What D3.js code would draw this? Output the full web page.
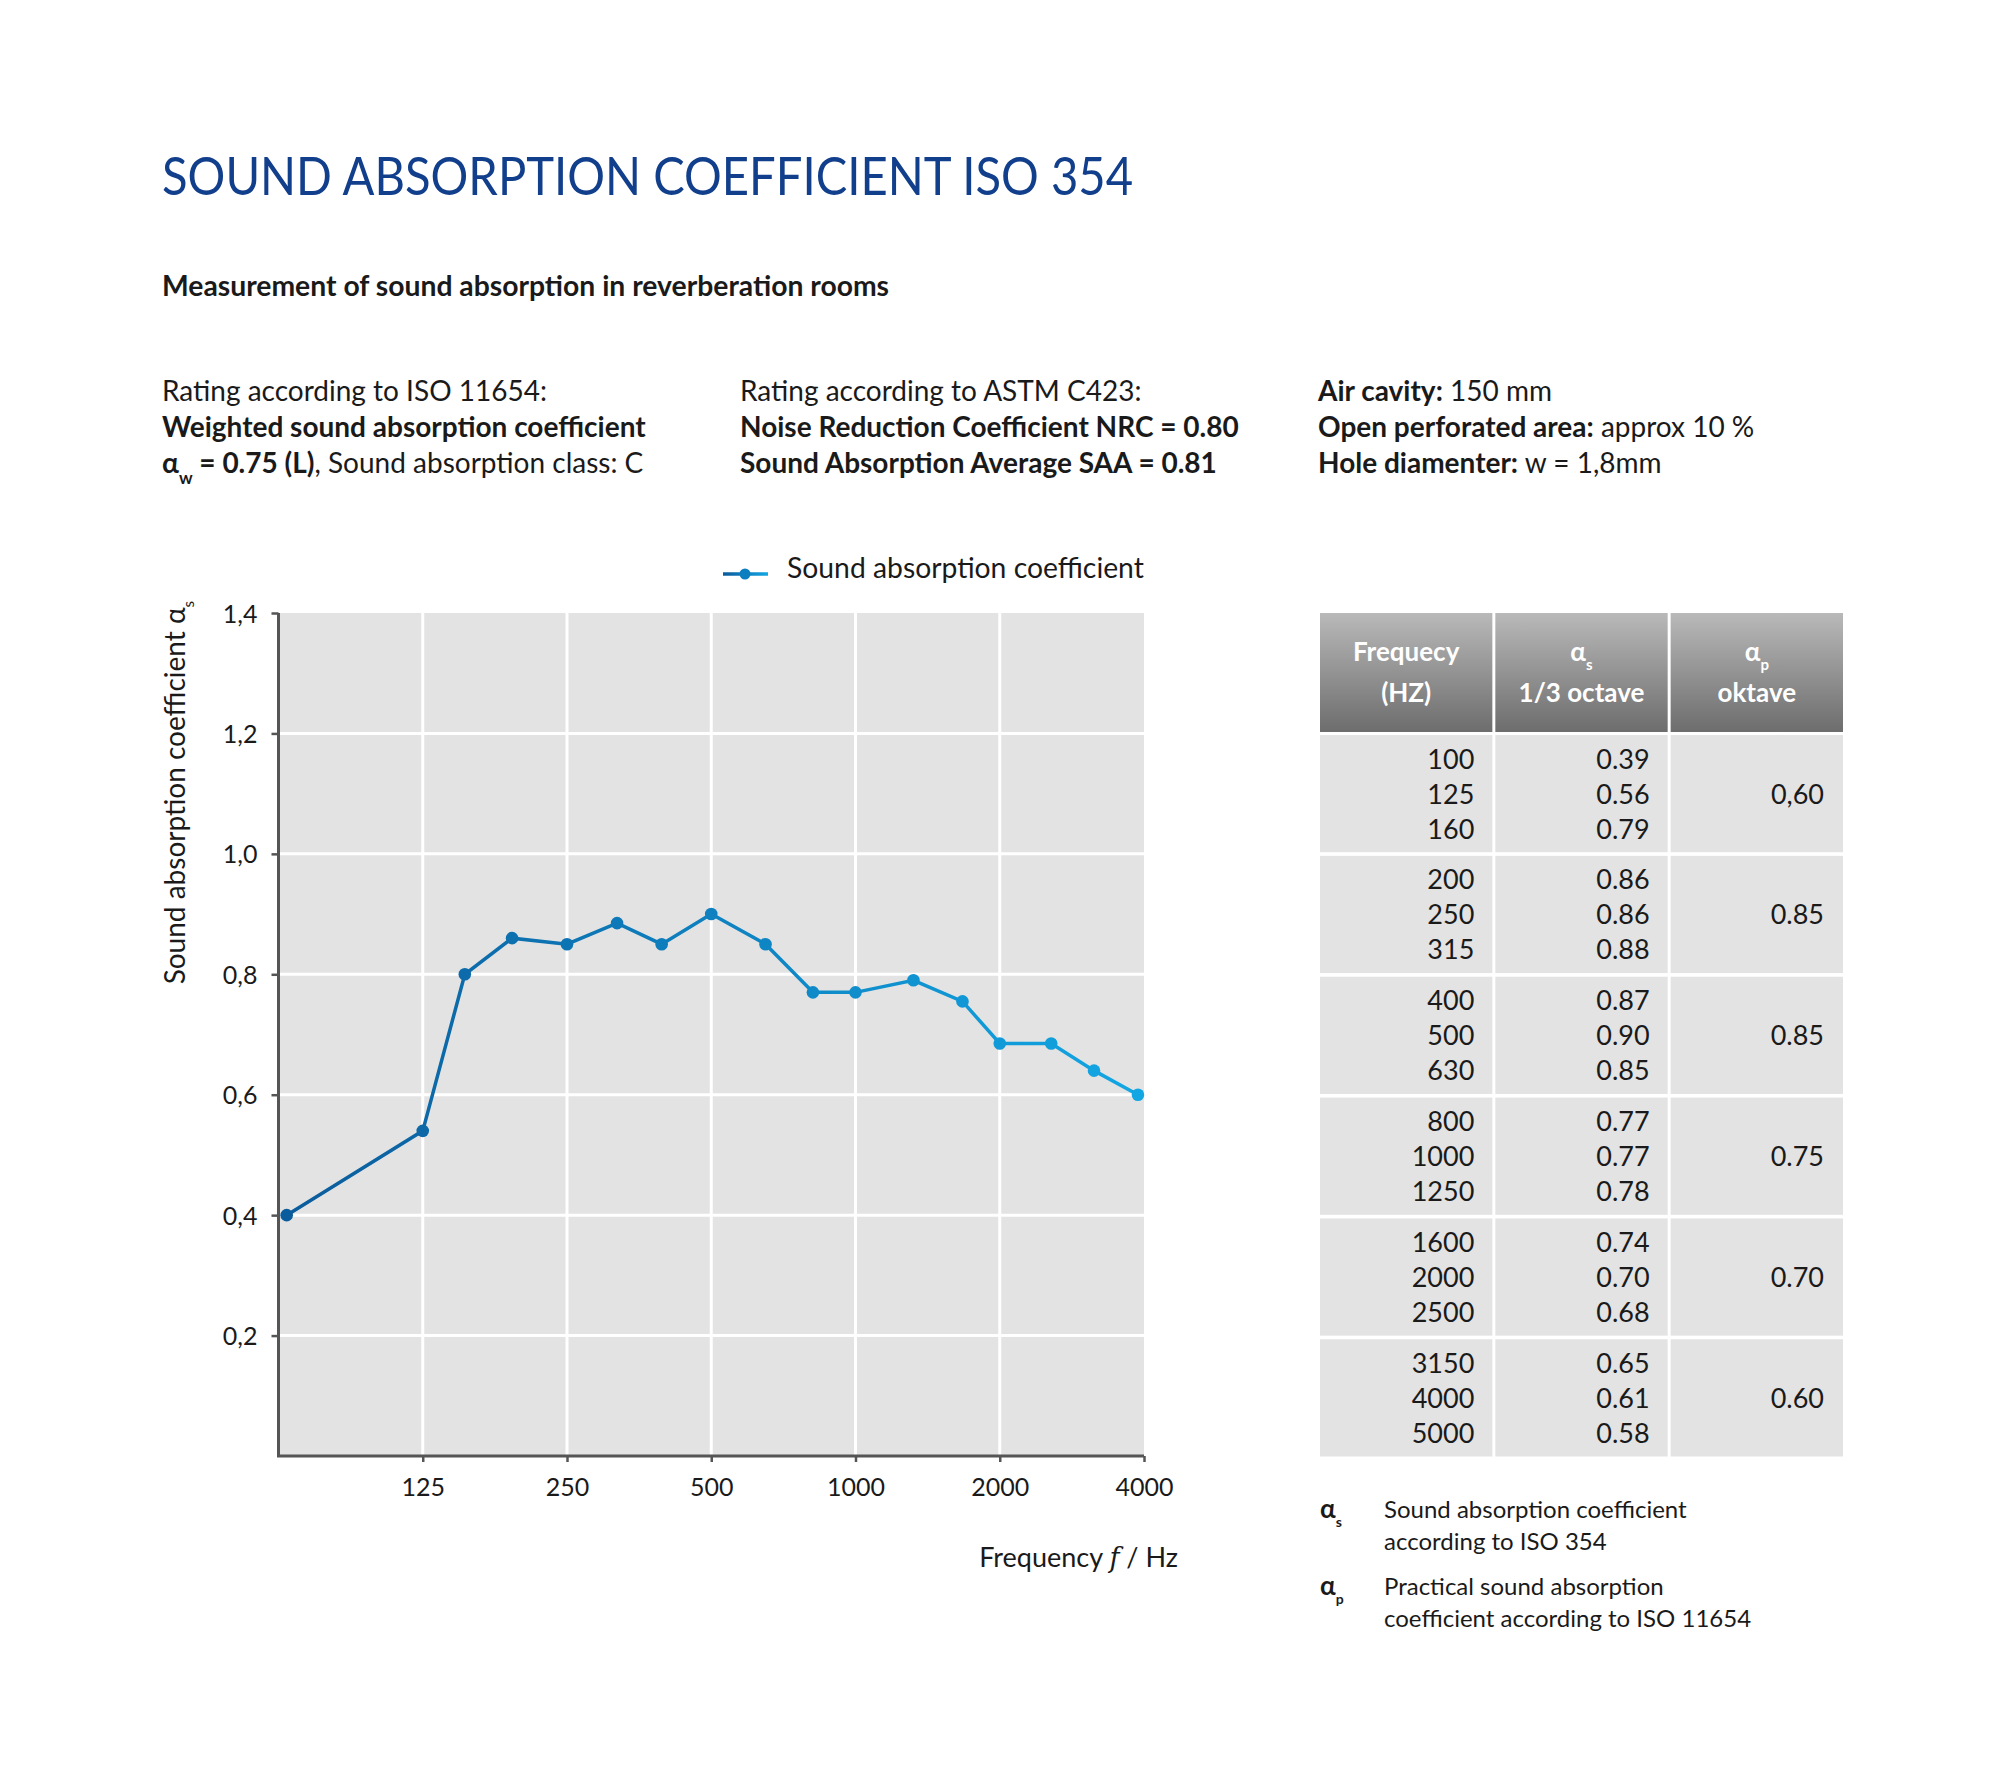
<!DOCTYPE html>
<html>
<head>
<meta charset="utf-8">
<script src="https://cdn.jsdelivr.net/npm/d3@7"></script>
<style>
  body { margin: 0; background: #fff; }
  svg { display: block; font-family: Lato, "Open Sans", sans-serif; }
</style>
</head>
<body>
<svg id="chart" width="2000" height="1786"></svg>
<script>
// === Données ===
const plotFreq  = [65, 125, 153, 192, 250, 318, 394, 500, 649, 815, 1000, 1321, 1672, 2000, 2561, 3146, 3885];
const plotAlpha = [0.40, 0.54, 0.80, 0.86, 0.85, 0.885, 0.85, 0.90, 0.85, 0.77, 0.77, 0.79, 0.755, 0.685, 0.685, 0.64, 0.60];
const xTicks = [125, 250, 500, 1000, 2000, 4000];
const yTicks = [0.2, 0.4, 0.6, 0.8, 1.0, 1.2, 1.4];

const tableFreq   = [100, 125, 160, 200, 250, 315, 400, 500, 630, 800, 1000, 1250, 1600, 2000, 2500, 3150, 4000, 5000];
const tableAlphaS = ["0.39", "0.56", "0.79", "0.86", "0.86", "0.88", "0.87", "0.90", "0.85",
                     "0.77", "0.77", "0.78", "0.74", "0.70", "0.68", "0.65", "0.61", "0.58"];
const tableAlphaP = ["0,60", "0.85", "0.85", "0.75", "0.70", "0.60"];

const svg = d3.select('#chart');
const BLUE = '#123f8c', TXT = '#1a1a1a';
const dark = '#0b5b9b', light = '#12a7e4';

// === Titres ===
svg.append('text').attr('x', 162).attr('y', 195)
  .attr('fill', BLUE).style('font-size', '52px')
  .attr('textLength', 971).attr('lengthAdjust', 'spacingAndGlyphs')
  .text('SOUND ABSORPTION COEFFICIENT ISO 354');

svg.append('text').attr('x', 162).attr('y', 296)
  .attr('fill', TXT).style('font-size', '28.3px').style('font-weight', 700)
  .text('Measurement of sound absorption in reverberation rooms');

// petite aide pour les lignes mixtes gras / normal
function richLine(x, y, parts) {
  const t = svg.append('text').attr('x', x).attr('y', y).attr('fill', TXT).style('font-size', '28px');
  parts.forEach(p => {
    const s = t.append('tspan').text(p.t);
    if (p.b) s.style('font-weight', 700);
    if (p.sub) s.attr('baseline-shift', 'sub').style('font-size', '17px');
  });
  return t;
}

const lineY = [401, 437, 473];
richLine(162, lineY[0], [{ t: 'Rating according to ISO 11654:' }]);
richLine(162, lineY[1], [{ t: 'Weighted sound absorption coefficient', b: true }]);
richLine(162, lineY[2], [{ t: 'α', b: true }, { t: 'w', b: true, sub: true }, { t: ' = 0.75 (L)', b: true }, { t: ', Sound absorption class: C' }]);

richLine(740, lineY[0], [{ t: 'Rating according to ASTM C423:' }]);
richLine(740, lineY[1], [{ t: 'Noise Reduction Coefficient NRC = 0.80', b: true }]);
richLine(740, lineY[2], [{ t: 'Sound Absorption Average SAA = 0.81', b: true }]);

richLine(1318, lineY[0], [{ t: 'Air cavity:', b: true }, { t: ' 150 mm' }]);
richLine(1318, lineY[1], [{ t: 'Open perforated area:', b: true }, { t: ' approx 10 %' }]);
richLine(1318, lineY[2], [{ t: 'Hole diamenter:', b: true }, { t: ' w = 1,8mm' }]);

// === Graphique ===
const x = d3.scaleLog().domain([62.5, 4000]).range([278.5, 1144]);
const y = d3.scaleLinear().domain([0, 1.4]).range([1456, 613]);
const colorAt = d3.scaleLinear().domain(x.range()).range([dark, light]);

svg.append('rect')
  .attr('x', x.range()[0]).attr('y', y(1.4))
  .attr('width', x.range()[1] - x.range()[0]).attr('height', y(0) - y(1.4))
  .attr('fill', '#e3e3e3');

const grid = svg.append('g').attr('stroke', '#fff').attr('stroke-width', 3);
grid.selectAll('line.h').data(yTicks.slice(0, -1)).join('line')
  .attr('class', 'h')
  .attr('x1', x.range()[0]).attr('x2', x.range()[1])
  .attr('y1', d => y(d)).attr('y2', d => y(d));
grid.selectAll('line.v').data(xTicks.slice(0, -1)).join('line')
  .attr('class', 'v')
  .attr('x1', d => x(d)).attr('x2', d => x(d))
  .attr('y1', y(1.4)).attr('y2', y(0));

// axes
const yAxis = d3.axisLeft(y).tickValues(yTicks).tickSize(7).tickPadding(14)
  .tickFormat(d => d3.format('.1f')(d).replace('.', ','));
const gy = svg.append('g').attr('transform', `translate(${x.range()[0]},0)`).call(yAxis);
const xAxis = d3.axisBottom(x).tickValues(xTicks).tickSize(6).tickPadding(16).tickFormat(d3.format('d'));
const gx = svg.append('g').attr('transform', `translate(0,${y(0)})`).call(xAxis);
[gx, gy].forEach(g => {
  g.select('.domain').remove();
  g.selectAll('.tick line').attr('stroke', '#555').attr('stroke-width', 2.5);
  g.selectAll('.tick text').attr('fill', TXT).style('font-size', '25px').style('font-family', 'Lato, sans-serif');
});
gy.selectAll('.tick text').attr('dy', '0.36em');
svg.append('path')
  .attr('d', `M${x.range()[0]},${y(1.4)}V${y(0)}H${x.range()[1]}`)
  .attr('fill', 'none').attr('stroke', '#555').attr('stroke-width', 3);

// titres des axes
const yTitle = svg.append('text')
  .attr('transform', `translate(185,601) rotate(-90)`)
  .attr('text-anchor', 'end').attr('fill', TXT).style('font-size', '28px');
yTitle.append('tspan').text('Sound absorption coefficient α');
yTitle.append('tspan').attr('baseline-shift', 'sub').style('font-size', '15px').text('s');

const xTitle = svg.append('text').attr('x', 1178).attr('y', 1567)
  .attr('text-anchor', 'end').attr('fill', TXT).style('font-size', '27px');
xTitle.append('tspan').text('Frequency ');
xTitle.append('tspan').style('font-style', 'italic').style('font-family', 'DejaVu Serif, serif').text('f');
xTitle.append('tspan').text(' / Hz');

// dégradé de la courbe
const defs = svg.append('defs');
const grad = defs.append('linearGradient').attr('id', 'lineGrad')
  .attr('gradientUnits', 'userSpaceOnUse')
  .attr('x1', x.range()[0]).attr('x2', x.range()[1]).attr('y1', 0).attr('y2', 0);
grad.append('stop').attr('offset', 0).attr('stop-color', dark);
grad.append('stop').attr('offset', 1).attr('stop-color', light);

const pts = plotFreq.map((f, i) => ({ f, a: plotAlpha[i] }));
svg.append('path').datum(pts)
  .attr('d', d3.line().x(d => x(d.f)).y(d => y(d.a)))
  .attr('fill', 'none').attr('stroke', 'url(#lineGrad)').attr('stroke-width', 3.5);
svg.append('g').selectAll('circle').data(pts).join('circle')
  .attr('cx', d => x(d.f)).attr('cy', d => y(d.a)).attr('r', 6.3)
  .attr('fill', d => colorAt(x(d.f)));

// légende
const lg = defs.append('linearGradient').attr('id', 'legGrad')
  .attr('gradientUnits', 'userSpaceOnUse').attr('x1', 723).attr('x2', 768).attr('y1', 0).attr('y2', 0);
lg.append('stop').attr('offset', 0).attr('stop-color', dark);
lg.append('stop').attr('offset', 1).attr('stop-color', light);
svg.append('line').attr('x1', 723).attr('x2', 768).attr('y1', 574).attr('y2', 574)
  .attr('stroke', 'url(#legGrad)').attr('stroke-width', 3.5);
svg.append('circle').attr('cx', 745).attr('cy', 574).attr('r', 5.5).attr('fill', '#0d7fc0');
svg.append('text').attr('x', 787).attr('y', 578).attr('fill', TXT).style('font-size', '28.3px')
  .text('Sound absorption coefficient');

// === Tableau ===
const col = d3.scaleBand().domain([0, 1, 2]).range([1320, 1843]).paddingInner(0.017);
const grp = d3.scaleBand().domain(d3.range(tableAlphaP.length)).range([735, 1456.5]).paddingInner(0.03);

const hg = defs.append('linearGradient').attr('id', 'headGrad').attr('x1', 0).attr('x2', 0).attr('y1', 0).attr('y2', 1);
hg.append('stop').attr('offset', 0).attr('stop-color', '#b9b9b9');
hg.append('stop').attr('offset', 1).attr('stop-color', '#6d6d6d');

const table = svg.append('g');
table.selectAll('rect.head').data(col.domain()).join('rect')
  .attr('class', 'head')
  .attr('x', d => col(d)).attr('y', 613).attr('width', col.bandwidth()).attr('height', 119)
  .attr('fill', 'url(#headGrad)');

const headers = [
  [{ t: 'Frequecy' }, { t: '(HZ)' }],
  [{ t: 'α', sub: 's' }, { t: '1/3 octave' }],
  [{ t: 'α', sub: 'p' }, { t: 'oktave' }]
];
headers.forEach((lines, c) => {
  lines.forEach((ln, k) => {
    const t = table.append('text')
      .attr('x', col(c) + col.bandwidth() / 2).attr('y', 661 + k * 41)
      .attr('text-anchor', 'middle').attr('fill', '#fff')
      .style('font-size', '26px').style('font-weight', 700);
    t.append('tspan').text(ln.t);
    if (ln.sub) t.append('tspan').attr('baseline-shift', 'sub').style('font-size', '15px').text(ln.sub);
  });
});

grp.domain().forEach(g => {
  const gy0 = grp(g), gh = grp.bandwidth(), cy = gy0 + gh / 2;
  table.selectAll(null).data(col.domain()).join('rect')
    .attr('x', d => col(d)).attr('y', gy0).attr('width', col.bandwidth()).attr('height', gh)
    .attr('fill', '#e3e3e3');
  const rows = d3.range(3).map(r => g * 3 + r);
  table.selectAll(null).data(rows).join('text')
    .attr('x', col(0) + col.bandwidth() - 18).attr('y', (d, r) => cy + (r - 1) * 35 + 10)
    .attr('text-anchor', 'end').attr('fill', TXT).style('font-size', '27px')
    .text(d => tableFreq[d]);
  table.selectAll(null).data(rows).join('text')
    .attr('x', col(1) + col.bandwidth() - 18).attr('y', (d, r) => cy + (r - 1) * 35 + 10)
    .attr('text-anchor', 'end').attr('fill', TXT).style('font-size', '27px')
    .text(d => tableAlphaS[d]);
  table.append('text')
    .attr('x', col(2) + col.bandwidth() - 19).attr('y', cy + 10)
    .attr('text-anchor', 'end').attr('fill', TXT).style('font-size', '27px')
    .text(tableAlphaP[g]);
});

// notes sous le tableau
const notes = [
  { sym: 's', lines: ['Sound absorption coefficient', 'according to ISO 354'], y: 1518 },
  { sym: 'p', lines: ['Practical sound absorption', 'coefficient according to ISO 11654'], y: 1595 }
];
notes.forEach(n => {
  const s = svg.append('text').attr('x', 1320).attr('y', n.y).attr('fill', TXT)
    .style('font-size', '26px').style('font-weight', 700);
  s.append('tspan').text('α');
  s.append('tspan').attr('baseline-shift', 'sub').style('font-size', '14px').text(n.sym);
  n.lines.forEach((l, i) => {
    svg.append('text').attr('x', 1384).attr('y', n.y + i * 31.5).attr('fill', TXT)
      .style('font-size', '24px').text(l);
  });
});
</script>
</body>
</html>
